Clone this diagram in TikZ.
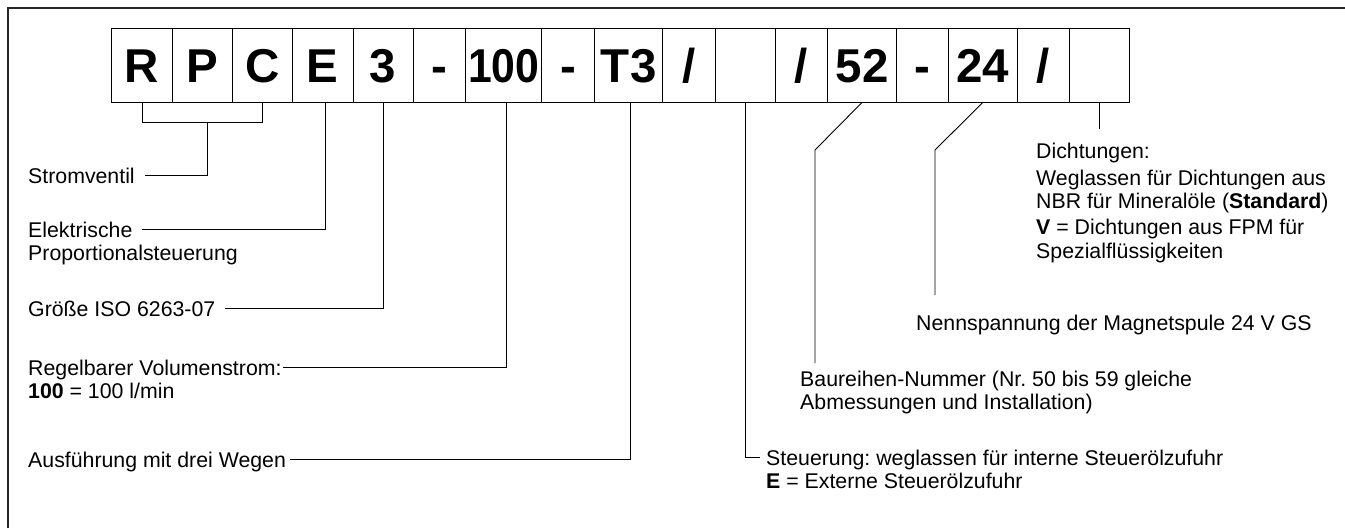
\documentclass[tikz,border=0pt]{standalone}
\usepackage{fontspec}
\setmainfont{Liberation Sans}
\frenchspacing
\newcommand\labellines[1]{\begin{tabular}[t]{@{}l@{}}#1\end{tabular}}
\begin{document}
\begin{tikzpicture}[x=1pt,y=-1pt,
  cell/.style={draw, line width=0.9pt, minimum height=74pt, inner sep=0pt,
    text height=34pt, text depth=0pt, font=\fontsize{47.5}{50}\selectfont\bfseries},
  lab/.style={inner sep=0pt, anchor=base west, font=\fontsize{21.3}{23.5}\selectfont},
  lead/.style={line width=0.9pt},
  frame/.style={line width=1.3pt, black!85}]
\useasboundingbox (0,0) rectangle (1345,528);
\draw[frame] (8,528) -- (8,8) -- (1345,8);
% code boxes
\node[cell, minimum width=60.6pt] (b1) at (142.0,65) {R};
\node[cell, minimum width=60.0pt] (b2) at (202.3,65) {P};
\node[cell, minimum width=60.0pt] (b3) at (262.3,65) {C};
\node[cell, minimum width=60.7pt] (b4) at (322.65,65) {E};
\node[cell, minimum width=60.3pt] (b5) at (383.15,65) {3};
\node[cell, minimum width=52.3pt] (b6) at (439.5,65) {-};
\node[cell, minimum width=76.0pt] (b7) at (503.7,65) {\scalebox{0.9}[1]{100}};
\node[cell, minimum width=53.0pt] (b8) at (568.2,65) {-};
\node[cell, minimum width=68.0pt] (b9) at (628.7,65) {T3};
\node[cell, minimum width=52.6pt] (b10) at (689.0,65) {/};
\node[cell, minimum width=60.0pt] (b11) at (745.3,65) {};
\node[cell, minimum width=52.4pt] (b12) at (801.5,65) {/};
\node[cell, minimum width=68.6pt] (b13) at (862.0,65) {52};
\node[cell, minimum width=52.4pt] (b14) at (922.5,65) {-};
\node[cell, minimum width=68.3pt] (b15) at (982.85,65) {24};
\node[cell, minimum width=52.3pt] (b16) at (1043.15,65) {/};
\node[cell, minimum width=60.0pt] (b17) at (1099.3,65) {};
% labels left
\node[lab] (t1) at (28,183) {Stromventil};
\node[lab] (t2) at (28,237) {\labellines{Elektrische\\Proportionalsteuerung}};
\node[lab] (t3) at (28,316) {Größe ISO 6263-07};
\node[lab] (t4) at (28,375) {\labellines{Regelbarer Volumenstrom:\\\textbf{100} = 100 l/min}};
\node[lab] (t5) at (28,467) {Ausführung mit drei Wegen};
% labels right
\node[lab] (t6) at (766,465) {\labellines{Steuerung: weglassen für interne Steuerölzufuhr\\\textbf{E} = Externe Steuerölzufuhr}};
\node[lab] (t7) at (800,386) {\labellines{Baureihen-Nummer (Nr. 50 bis 59 gleiche\\Abmessungen und Installation)}};
\node[lab] (t8) at (916,330) {Nennspannung der Magnetspule 24 V GS};
\node[lab] (t9) at (1036,158) {\labellines{Dichtungen:\\[3.5pt]Weglassen für Dichtungen aus\\NBR für Mineralöle (\textbf{Standard})\\[2.5pt]\textbf{V} = Dichtungen aus FPM für\\Spezialflüssigkeiten}};
% leader coordinates
\coordinate (brk) at (207,122.7);
\coordinate (c2) at (142,229);
\coordinate (c6) at (760,457);
\coordinate (k7) at (815,150);
\coordinate (c7) at (815,363);
\coordinate (k8) at (935,150);
\coordinate (c8) at (935,295);
\coordinate (c9) at (1099.3,129);
% leaders
\draw[lead] (b1.south) -- (b1.south |- brk) -- (b3.south |- brk) -- (b3.south);
\draw[lead] ([shift={(10pt,-7.5)}]t1.base east) -| (brk);
\draw[lead] (c2) -| ([xshift=2.3pt]b4.south);
\draw[lead] ([shift={(10pt,-7.5)}]t3.base east) -| (b5.south);
\draw[lead] ([shift={(1pt,-7.5)}]t4.base east) -| ([xshift=2.6pt]b7.south);
\draw[lead] ([shift={(4pt,-7.5)}]t5.base east) -| ([xshift=1.6pt]b9.south);
\draw[lead] (b11.south) |- (c6);
\draw[lead] (b13.south) -- (k7) -- (c7);
\draw[lead] (b15.south) -- (k8) -- (c8);
\draw[lead] (b17.south) -- (c9);
\end{tikzpicture}
\end{document}
